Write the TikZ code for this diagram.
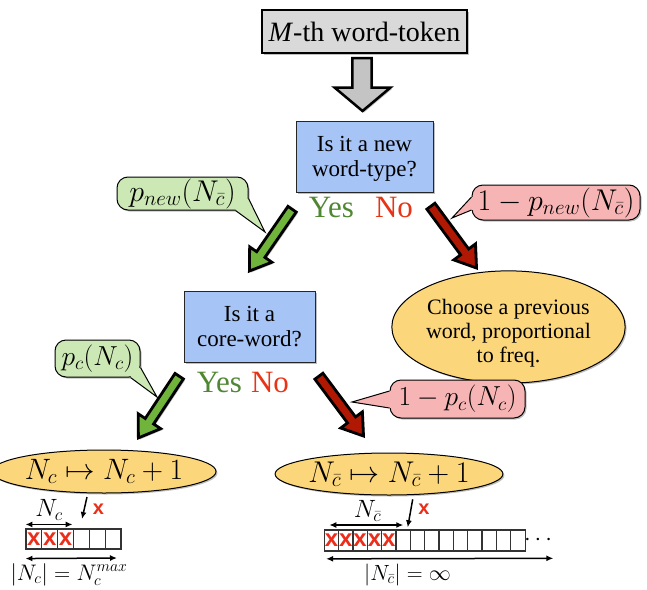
\RequirePackage{fix-cm}
\documentclass[tikz,border=0pt]{standalone}
\usepackage[no-math]{fontspec}
\setmainfont{Liberation Serif}
\setsansfont{Liberation Sans}
\usetikzlibrary{calc,shapes.geometric,arrows.meta,shadows}

\definecolor{boxblue}{RGB}{166,196,245}
\definecolor{ellyellow}{RGB}{252,214,122}
\definecolor{bubgreen}{RGB}{204,232,181}
\definecolor{bubpink}{RGB}{247,180,180}
\definecolor{arrgreen}{RGB}{112,180,60}
\definecolor{arrred}{RGB}{176,24,4}
\definecolor{yesgreen}{RGB}{80,135,50}
\definecolor{nored}{RGB}{232,52,22}
\definecolor{markred}{RGB}{235,45,25}
\definecolor{toplgray}{RGB}{217,217,217}
\definecolor{arrgray}{RGB}{196,196,196}

\newcommand\fsz[2]{\fontsize{#1}{#2}\selectfont}

% block arrow: #1 style, #2 start, #3 end, #4 shaft half width, #5 head half width, #6 head length
\newcommand\blockarrow[6]{%
  \coordinate (bacut) at ($(#3)!#6!(#2)$);
  \draw[#1] ($(#2)!#4!90:(#3)$) -- ($(bacut)!#4!90:(#3)$) -- ($(bacut)!#5!90:(#3)$) -- (#3)
    -- ($(bacut)!#5!-90:(#3)$) -- ($(bacut)!#4!-90:(#3)$) -- ($(#2)!#4!-90:(#3)$) -- cycle;}

% bubble pointer: #1 fill, #2 base1, #3 base2, #4 tip, #5 inner1, #6 inner2
\newcommand\bubptr[6]{%
  \fill[#1] #5 -- #2 -- #4 -- #3 -- #6 -- cycle;
  \draw[bubline] #2 -- #4 -- #3;}

\begin{document}
\begin{tikzpicture}[x=1pt,y=-1pt,
  shad/.style={drop shadow={shadow xshift=1.5pt,shadow yshift=-1.5pt,opacity=0.25,fill=black}},
  topbox/.style={draw=black, line width=2.5pt, fill=toplgray, minimum width=205pt, minimum height=43pt, inner sep=0pt, font=\fsz{28}{30}, shad},
  qbox/.style={draw=black!85, line width=1pt, fill=boxblue, inner sep=0pt, align=center, font=\fsz{23}{25}, shad},
  ellnode/.style={ellipse, draw=black, line width=1pt, fill=ellyellow, inner sep=0pt, align=center, shad},
  gbub/.style={draw=black, line width=1pt, fill=bubgreen, rounded corners=11pt, inner sep=0pt, font=\fsz{30}{32}, shad},
  pbub/.style={draw=black, line width=1pt, fill=bubpink, rounded corners=11pt, inner sep=0pt, font=\fsz{30}{32}, shad},
  bubline/.style={draw=black, line width=1pt, line join=miter},
  yesnode/.style={text=yesgreen, font=\fsz{31}{32}, inner sep=0pt},
  nonode/.style={text=nored, font=\fsz{31}{32}, inner sep=0pt},
  blk/.style={draw=black, line width=2.8pt, line join=miter, shad},
  cellbox/.style={draw=black!80, line width=1.1pt, inner sep=0pt},
  xmark/.style={text=markred, font=\sffamily\bfseries\fsz{24}{24}, inner sep=0pt},
  smallx/.style={text=markred, font=\sffamily\bfseries\fsz{20}{20}, inner sep=0pt},
  lbl/.style={font=\fsz{25}{26}, inner sep=0pt},
  sarr/.style={-{Latex[length=7pt,width=6pt]}, line width=1.5pt},
  darr/.style={{Latex[length=7pt,width=6pt]}-{Latex[length=7pt,width=6pt]}, line width=1.5pt}
]
\useasboundingbox (0,0) rectangle (647,589);
\fill[white] (0,0) rectangle (647,589);

% top token box and big gray arrow
\node[topbox] (tok) at (364.5,31.5) {\textit{M}-th word-token};
\draw[draw=black, line width=2.5pt, fill=arrgray, line join=miter, shad]
  (352.3,58) -- (371.7,58) -- (371.7,87.5) -- (390.5,87.5) -- (362.5,111) -- (334.5,87.5) -- (352.3,87.5) -- cycle;

% first question
\node[qbox, minimum width=137pt, minimum height=71pt] (q1) at (364.5,156.5) {\rule{0pt}{20.8pt}Is it a new\\word-type?};
\node[yesnode] (yes1) at (331.5,207.5) {Yes};
\node[nonode] (no1) at (394,207.5) {No};

% bubbles of first question
\node[gbub, minimum width=131pt, minimum height=33pt] (bnew) at (182.5,193.5) {$p_{new}(N_{\bar c})$};
\bubptr{bubgreen}{($(bnew.south east)+(-13,0)$)}{($(bnew.south east)+(0,-12)$)}{(265,232)}{($(bnew.south east)+(-13,-4)$)}{($(bnew.south east)+(-4,-12)$)}
\node[pbub, minimum width=168pt, minimum height=35pt] (bnotnew) at (556,202.5) {$1-p_{new}(N_{\bar c})$};
\bubptr{bubpink}{($(bnotnew.west)+(0,-5.5)$)}{($(bnotnew.west)+(0,7.5)$)}{(452,218)}{($(bnotnew.west)+(4,-5.5)$)}{($(bnotnew.west)+(4,7.5)$)}

% second question and previous word
\node[qbox, minimum width=131pt, minimum height=71pt] (q2) at (249.5,326.5) {Is it a\\core-word?};
\node[yesnode] (yes2) at (219.5,382) {Yes};
\node[nonode] (no2) at (270,382) {No};
\node[ellnode, minimum width=227pt, minimum height=90pt, font=\fsz{22}{24}] (prev) at (508.5,327) {\rule{0pt}{26.7pt}Choose a previous\\word, proportional\\to freq.};

% arrows from first question
\coordinate (g1s) at (292.1,209.2);
\coordinate (g1e) at (249.4,271);
\blockarrow{blk, fill=arrgreen}{g1s}{g1e}{5pt}{13.5pt}{20pt}
\coordinate (r1s) at (430.9,206.2);
\coordinate (r1e) at (476.5,268);
\blockarrow{blk, fill=arrred}{r1s}{r1e}{5pt}{13.5pt}{20pt}

% bubbles of second question
\node[gbub, minimum width=85pt, minimum height=37pt, font=\fsz{27.5}{30}] (bcore) at (97.5,358.5) {$p_c(N_c)$};
\bubptr{bubgreen}{($(bcore.south east)+(-10,0)$)}{($(bcore.south east)+(0,-10)$)}{(157,397)}{($(bcore.south east)+(-10,-4)$)}{($(bcore.south east)+(-4,-10)$)}
\node[pbub, minimum width=135pt, minimum height=38pt, font=\fsz{27.5}{30}] (bnotcore) at (457.5,399) {$1-p_c(N_c)$};
\bubptr{bubpink}{($(bnotcore.west)+(0,-8)$)}{($(bnotcore.west)+(0,9)$)}{(352,402)}{($(bnotcore.west)+(4,-8)$)}{($(bnotcore.west)+(4,9)$)}

% arrows from second question
\coordinate (g2s) at (179.2,376.2);
\coordinate (g2e) at (138.4,437.9);
\blockarrow{blk, fill=arrgreen}{g2s}{g2e}{5pt}{13.5pt}{20pt}
\coordinate (r2s) at (318.9,376.2);
\coordinate (r2e) at (363.5,436);
\blockarrow{blk, fill=arrred}{r2s}{r2e}{5pt}{13.5pt}{20pt}

% increment ellipses
\node[ellnode, minimum width=188pt, minimum height=43pt, font=\fsz{29.5}{30}] (incc) at (104,471.5) {$N_c\mapsto N_c+1$};
\node[ellnode, minimum width=188pt, minimum height=42pt, font=\fsz{30}{30}] (incn) at (389,474) {$N_{\bar c}\mapsto N_{\bar c}+1$};

% left array
\foreach \i in {1,...,6}
  \node[cellbox, minimum width=15.83pt, minimum height=20pt] (cl\i) at ({26+15.83*(\i-0.5)},539) {};
\foreach \i in {1,2,3}
  \node[xmark] at (cl\i) {x};
\draw[darr] ($(cl1.north west)+(0,-4)$) -- ($(cl3.north east)+(-1.5,-4)$);
\node[lbl] (lnc) at (49,510) {$N_c$};
\coordinate (dls) at (87,497);
\coordinate (dle) at (82,519);
\draw[sarr] (dls) -- (dle);
\node[smallx] (lx) at (98.5,509) {x};
\coordinate (lbs) at ($(cl1.south west)+(0,9)$);
\coordinate (lbe) at (117,558);
\draw[darr] (lbs) -- (lbe);
\node[lbl, anchor=base, font=\fsz{22.5}{24}] (lmax) at (69,580) {$|N_c|=N_c^{max}$};

% right array
\foreach \i in {1,...,14}
  \node[cellbox, minimum width=14.34pt, minimum height=21pt] (cr\i) at ({324.3+14.34*(\i-0.5)},540.5) {};
\foreach \i in {1,...,5}
  \node[xmark] at (cr\i) {x};
\node[lbl, font=\fsz{24}{26}] (dots) at (538,540.5) {$\cdots$};
\coordinate (rts) at (329.3,525);
\coordinate (rte) at (403.3,525);
\draw[darr] (rts) -- (rte);
\node[lbl] (lnn) at (367.5,511) {$N_{\bar c}$};
\coordinate (drs) at (412.7,499.3);
\coordinate (dre) at (407.7,527.3);
\draw[sarr] (drs) -- (dre);
\node[smallx] (rx) at (424,509.5) {x};
\coordinate (rbs) at ($(cr1.south west)+(2.4,7.3)$);
\coordinate (rbe) at (553.3,558.3);
\draw[darr] (rbs) -- (rbe);
\node[lbl, anchor=base, font=\fsz{22}{24}] (linf) at (407.5,580) {$|N_{\bar c}|=\infty$};
\end{tikzpicture}
\end{document}
